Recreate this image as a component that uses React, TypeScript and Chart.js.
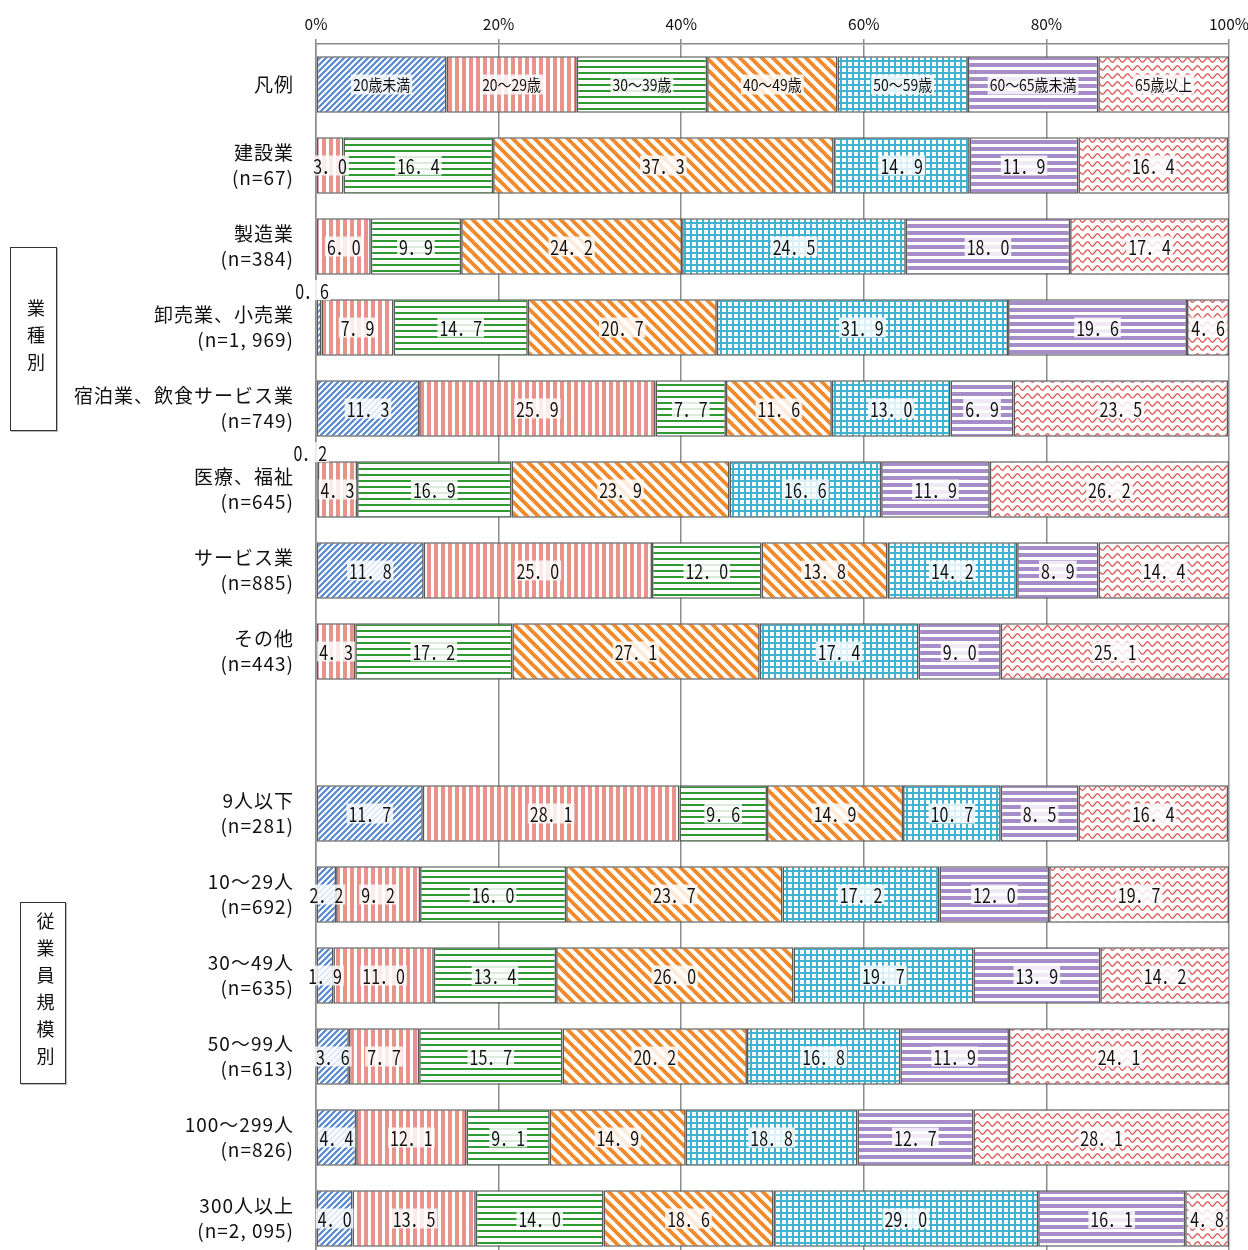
import { useEffect, useRef } from "react";
import { Chart, registerables } from "chart.js";

Chart.register(...registerables);

const categories: string[][] = [
  ["凡例"],
  ["建設業", "(n=67)"],
  ["製造業", "(n=384)"],
  ["卸売業、小売業", "(n=1, 969)"],
  ["宿泊業、飲食サービス業", "(n=749)"],
  ["医療、福祉", "(n=645)"],
  ["サービス業", "(n=885)"],
  ["その他", "(n=443)"],
  [""],
  ["9人以下", "(n=281)"],
  ["10～29人", "(n=692)"],
  ["30～49人", "(n=635)"],
  ["50～99人", "(n=613)"],
  ["100～299人", "(n=826)"],
  ["300人以上", "(n=2, 095)"],
];

const seriesNames = ["20歳未満", "20～29歳", "30～39歳", "40～49歳", "50～59歳", "60～65歳未満", "65歳以上"];

const under20 = [14.28, 0, 0, 0.6, 11.3, 0.2, 11.8, 0, null, 11.7, 2.2, 1.9, 3.6, 4.4, 4.0];
const age20s = [14.28, 3.0, 6.0, 7.9, 25.9, 4.3, 25.0, 4.3, null, 28.1, 9.2, 11.0, 7.7, 12.1, 13.5];
const age30s = [14.28, 16.4, 9.9, 14.7, 7.7, 16.9, 12.0, 17.2, null, 9.6, 16.0, 13.4, 15.7, 9.1, 14.0];
const age40s = [14.28, 37.3, 24.2, 20.7, 11.6, 23.9, 13.8, 27.1, null, 14.9, 23.7, 26.0, 20.2, 14.9, 18.6];
const age50s = [14.28, 14.9, 24.5, 31.9, 13.0, 16.6, 14.2, 17.4, null, 10.7, 17.2, 19.7, 16.8, 18.8, 29.0];
const age60to65 = [14.28, 11.9, 18.0, 19.6, 6.9, 11.9, 8.9, 9.0, null, 8.5, 12.0, 13.9, 11.9, 12.7, 16.1];
const age65plus = [14.32, 16.4, 17.4, 4.6, 23.5, 26.2, 14.4, 25.1, null, 16.4, 19.7, 14.2, 24.1, 28.1, 4.8];

const seriesValues = [under20, age20s, age30s, age40s, age50s, age60to65, age65plus];

const groupLabels = ["業種別", "従業員規模別"];

function makePattern(kind: number): CanvasPattern | string {
  const c = document.createElement("canvas");
  const g = c.getContext("2d")!;
  const fill = (w: number, h: number) => {
    c.width = w;
    c.height = h;
    g.fillStyle = "#ffffff";
    g.fillRect(0, 0, w, h);
  };
  if (kind === 0) {
    fill(6, 6);
    g.strokeStyle = "#5587cf";
    g.lineWidth = 2.2;
    g.beginPath();
    for (let k = -1; k <= 1; k++) {
      g.moveTo(k * 6 - 1, 7);
      g.lineTo(k * 6 + 7, -1);
    }
    g.stroke();
  } else if (kind === 1) {
    fill(7, 4);
    g.fillStyle = "#e8928b";
    g.fillRect(0, 0, 4, 4);
  } else if (kind === 2) {
    fill(4, 6);
    g.fillStyle = "#2f9a32";
    g.fillRect(0, 0, 4, 2);
  } else if (kind === 3) {
    fill(11, 11);
    g.strokeStyle = "#f28a2c";
    g.lineWidth = 3.8;
    g.beginPath();
    for (let k = -1; k <= 1; k++) {
      g.moveTo(k * 11 - 1, -1);
      g.lineTo(k * 11 + 12, 12);
    }
    g.stroke();
  } else if (kind === 4) {
    fill(6, 6);
    g.fillStyle = "#3eb2d0";
    g.fillRect(0, 0, 6, 2);
    g.fillRect(0, 0, 2, 6);
  } else if (kind === 5) {
    fill(4, 7);
    g.fillStyle = "#a68dca";
    g.fillRect(0, 0, 4, 4);
  } else {
    fill(10, 8);
    g.strokeStyle = "#e05a5a";
    g.lineWidth = 1.4;
    g.beginPath();
    for (let x = 0; x <= 10; x += 0.5) {
      const y = 4 + 2.2 * Math.sin((2 * Math.PI * x) / 10);
      if (x === 0) g.moveTo(x, y);
      else g.lineTo(x, y);
    }
    g.stroke();
  }
  const p = g.createPattern(c, "repeat");
  return p || "#cccccc";
}

const labelPlugin = {
  id: "segLabels",
  afterDatasetsDraw(chart: any) {
    const ctx: CanvasRenderingContext2D = chart.ctx;
    chart.data.datasets.forEach((ds: any, di: number) => {
      const meta = chart.getDatasetMeta(di);
      meta.data.forEach((bar: any, j: number) => {
        const v = ds.data[j];
        if (v == null || v === 0) return;
        const p = bar.getProps(["x", "y", "base", "height"], true);
        let cx = (p.x + p.base) / 2;
        let cy = p.y;
        let text: string;
        let size: number;
        let sx: number;
        if (j === 0) {
          text = seriesNames[di];
          size = 15.5;
          sx = 0.9;
        } else {
          text = v.toFixed(1).replace(".", "．");
          size = 19.5;
          sx = 0.82;
          if (v < 1) {
            cy = p.y - p.height / 2 - 9;
            cx = cx - 7;
          }
        }
        ctx.save();
        (ctx as any).letterSpacing = "0px";
        ctx.font = `${size}px "Noto Sans CJK JP"`;
        const w = ctx.measureText(text).width * sx;
        ctx.fillStyle = "rgba(255,255,255,0.82)";
        ctx.fillRect(cx - w / 2 - 2, cy - 10, w + 4, 20);
        ctx.translate(cx, cy);
        ctx.scale(sx, 1);
        ctx.fillStyle = "#111111";
        ctx.textAlign = "center";
        ctx.textBaseline = "middle";
        ctx.fillText(text, 0, 1);
        ctx.restore();
      });
    });
    // y-axis labels are drawn after datasets (ticks.z = 1); widen them slightly
    (ctx as any).letterSpacing = "1px";
  },
  afterDraw(chart: any) {
    (chart.ctx as any).letterSpacing = "0px";
  },
};

export default function App() {
  const ref = useRef<HTMLCanvasElement>(null);
  useEffect(() => {
    document.documentElement.style.overflow = "hidden";
    document.body.style.overflow = "hidden";
    const canvas = ref.current!;
    const chart = new Chart(canvas, {
      type: "bar",
      data: {
        labels: categories,
        datasets: seriesValues.map((vals, i) => ({
          label: seriesNames[i],
          data: vals as any,
          backgroundColor: makePattern(i) as any,
          borderColor: "#595959",
          borderWidth: 1.6,
          borderSkipped: false,
          barPercentage: 0.7,
          categoryPercentage: 1.0,
        })),
      },
      options: {
        indexAxis: "y",
        animation: false,
        responsive: false,
        maintainAspectRatio: false,
        layout: { padding: { left: 0, right: 19, top: 0, bottom: 0 } },
        plugins: {
          legend: { display: false },
          tooltip: { enabled: false },
        },
        scales: {
          x: {
            type: "linear",
            position: "top",
            stacked: true,
            min: 0,
            max: 100,
            ticks: {
              stepSize: 20,
              callback: (v: any) => `${v}%`,
              color: "#111111",
              font: { family: '"Noto Sans CJK JP"', size: 15.5 },
              padding: 6,
            },
            grid: { color: "#8c8c8c", lineWidth: 1.5, tickLength: 5, drawOnChartArea: true },
            border: { display: true, color: "#8c8c8c", width: 1.5 },
            afterFit: (s: any) => {
              s.height = 44;
              s.paddingLeft = 0;
              s.paddingRight = 0;
            },
          },
          y: {
            type: "category",
            stacked: true,
            ticks: {
              autoSkip: false,
              color: "#111111",
              font: { family: '"Noto Sans CJK JP"', size: 19, lineHeight: 1.34 },
              padding: 14,
              z: 1,
            },
            grid: { display: false },
            border: { display: true, color: "#8c8c8c", width: 1.5 },
            afterFit: (s: any) => {
              s.width = 316;
              s.paddingTop = 0;
              s.paddingBottom = 0;
            },
          },
        },
      },
      plugins: [labelPlugin],
    });
    return () => chart.destroy();
  }, []);

  const boxStyle = (left: number, top: number, w: number, h: number): any => ({
    position: "absolute",
    left,
    top,
    width: w,
    height: h,
    border: "1px solid #333333",
    boxShadow: "1px 1px 0 #bbbbbb",
    boxSizing: "border-box",
    display: "flex",
    alignItems: "center",
    justifyContent: "center",
    paddingLeft: 5,
    background: "#ffffff",
  });
  const textStyle: any = {
    writingMode: "vertical-rl",
    fontFamily: '"Noto Sans CJK JP"',
    fontSize: 18,
    letterSpacing: 9,
    color: "#111111",
    lineHeight: 1,
  };

  return (
    <div>
      <canvas
        ref={ref}
        width={1248}
        height={1259}
        style={{ position: "absolute", left: 0, top: 0, width: 1248, height: 1259 }}
      />
      <div style={boxStyle(10, 247, 47, 184)}>
        <span style={textStyle}>{groupLabels[0]}</span>
      </div>
      <div style={boxStyle(20, 902, 46, 182)}>
        <span style={textStyle}>{groupLabels[1]}</span>
      </div>
    </div>
  );
}
